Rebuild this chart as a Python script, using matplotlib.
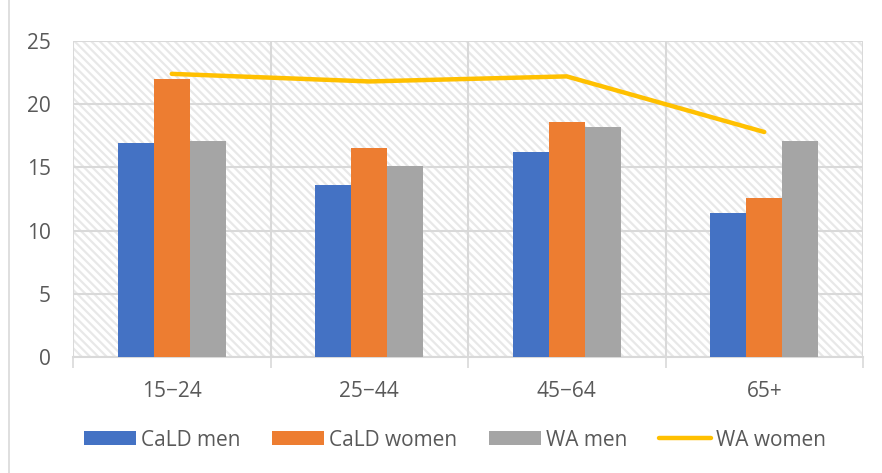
import matplotlib
matplotlib.use("Agg")
import matplotlib.pyplot as plt
import numpy as np
from matplotlib.patches import Rectangle

categories = ["15\u221224", "25\u221244", "45\u221264", "65+"]
cald_men = [16.9, 13.6, 16.2, 11.4]
cald_women = [22.0, 16.5, 18.6, 12.6]
wa_men = [17.1, 15.1, 18.2, 17.1]
wa_women = [22.4, 21.8, 22.2, 17.8]
y_ticks = [0, 5, 10, 15, 20, 25]

text_col = "#595959"
grid_col = "#d9d9d9"
fs = 15
plt.rcParams["font.family"] = ["Open Sans", "DejaVu Sans"]
plt.rcParams["hatch.linewidth"] = 1.6

fig = plt.figure(figsize=(8.82, 4.73), dpi=100)
# light chart-area border (left edge visible)
fig.patches.append(Rectangle((9 / 882, -0.01), 1.0, 1.02, transform=fig.transFigure,
                             facecolor="none", edgecolor=grid_col, linewidth=1.2, zorder=-10))
ax = fig.add_axes([73 / 882, 1 - 357 / 473, 790 / 882, 316 / 473])
ax.set_facecolor("white")

# hatched background
ax.add_patch(Rectangle((0, 0), 1, 1, transform=ax.transAxes, facecolor="none",
                       edgecolor="#e8e8e8", hatch="\\" * 4, linewidth=0, zorder=0))

x = np.arange(len(categories))
w = 0.182
b1 = ax.bar(x - w, cald_men, w, color="#4472c4", label="CaLD men", zorder=3)
b2 = ax.bar(x, cald_women, w, color="#ed7d31", label="CaLD women", zorder=3)
b3 = ax.bar(x + w, wa_men, w, color="#a5a5a5", label="WA men", zorder=3)
ln, = ax.plot(x, wa_women, color="#ffc000", linewidth=3.2, solid_capstyle="round",
              label="WA women", zorder=4)

ax.set_xlim(-0.5, len(categories) - 0.5)
ax.set_ylim(0, 25)
ax.set_yticks(y_ticks)
ax.set_xticks(x)
ax.set_xticklabels(categories)
ax.set_xticks(np.arange(len(categories) + 1) - 0.5, minor=True)
ax.tick_params(axis="x", which="major", length=0, pad=17, labelsize=fs, labelcolor=text_col)
ax.tick_params(axis="x", which="minor", length=8, width=1.2, color=grid_col)
ax.tick_params(axis="y", length=0, pad=16, labelsize=fs, labelcolor=text_col)
ax.grid(axis="y", color=grid_col, linewidth=1.5, zorder=1)
ax.grid(axis="x", which="minor", color=grid_col, linewidth=1.5, zorder=1)
for side in ["top", "right", "left"]:
    ax.spines[side].set_visible(False)
ax.spines["bottom"].set_color(grid_col)
ax.spines["bottom"].set_linewidth(1.5)
ax.set_axisbelow(True)

fig.legend([b1, b2, b3, ln], ["CaLD men", "CaLD women", "WA men", "WA women"],
           loc="center", bbox_to_anchor=(455 / 882, 1 - 440 / 473), ncol=4,
           frameon=False, fontsize=fs, labelcolor=text_col, handlelength=2.5,
           handleheight=0.63, handletextpad=0.25, columnspacing=1.5)

fig.savefig("out.png", dpi=100)
